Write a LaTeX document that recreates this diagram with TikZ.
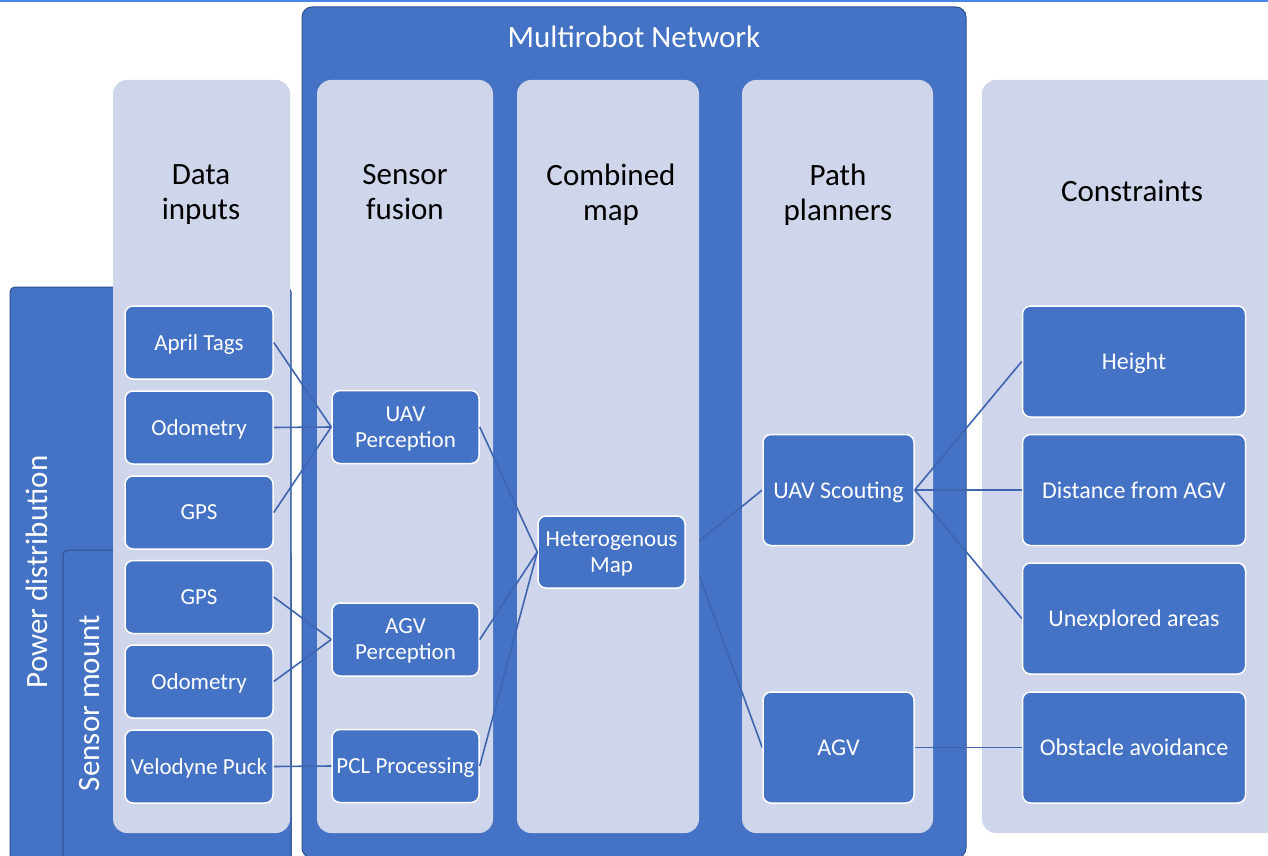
\documentclass[tikz,border=0pt]{standalone}
\usepackage{fontspec}
\setmainfont{Carlito}
\usetikzlibrary{calc}

\definecolor{accent}{HTML}{4472C4}
\definecolor{accentdark}{HTML}{2F528F}
\definecolor{pale}{HTML}{CFD5EA}
\definecolor{wirecol}{HTML}{3D65B0}
\definecolor{topline}{HTML}{4A86E8}

\pgfdeclarelayer{back}
\pgfdeclarelayer{under}
\pgfdeclarelayer{over}
\pgfsetlayers{back,under,over,main}

\tikzset{
  panel/.style={fill=accent, draw=accentdark, line width=1pt},
  lane/.style={fill=pale, draw=none, rounded corners=14pt},
  item/.style={fill=accent, draw=white, line width=1.5pt, rounded corners=8pt,
    text=white, align=center, inner sep=0pt, text depth=0pt,
    font=\fontsize{23}{26}\selectfont},
  smallitem/.style={item, minimum width=148pt, minimum height=73pt},
  bigitem/.style={item, minimum height=111pt, font=\fontsize{24}{27}\selectfont},
  heading/.style={align=center, text=black, text depth=0pt,
    font=\fontsize{31}{35}\selectfont},
  sidelabel/.style={rotate=90, text=white, font=\fontsize{31}{35}\selectfont},
  wire/.style={draw=wirecol, line width=1.6pt},
}

\begin{document}
\begin{tikzpicture}[x=1pt, y=-1pt]
\useasboundingbox (0,0) rectangle (1268,856);
\clip (0,0) rectangle (1268,856);

% outer panels and lanes
\begin{pgfonlayer}{back}
  \fill[white] (0,0) rectangle (1268,856);
  \fill[topline] (0,0) rectangle (1268,2.5);
  \draw[panel, rounded corners=5pt] (10,287) rectangle (291,870);
  \draw[panel, rounded corners=5pt] (63,550) rectangle (291,870);
  \draw[panel, rounded corners=10pt] (302,7) rectangle (966,858);
  \path[lane] (113,80) rectangle (290,833);
  \path[lane] (317,80) rectangle (493,833);
  \path[lane] (742,80) rectangle (933,833);
  \path[lane] (982,80) rectangle (1284,833);
  \node[sidelabel] (powerlbl) at (37,572) {Power distribution};
  \node[sidelabel] (mountlbl) at (90,703) {Sensor mount};
\end{pgfonlayer}
\begin{pgfonlayer}{over}
  \path[lane] (517,80) rectangle (699,833);
\end{pgfonlayer}

% titles
\node[text=white, font=\fontsize{31}{35}\selectfont] (title) at (634,37) {Multirobot Network};
\node[heading] (hdata) at (201,192) {Data\\inputs};
\node[heading] (hfusion) at (405,192) {Sensor\\fusion};
\node[heading] (hmapt) at (611,192) {Combined\\map};
\node[heading] (hplan) at (838,192) {Path\\planners};
\node[heading] (hcons) at (1132,191) {Constraints};

% data inputs
\node[smallitem] (tags) at (199,342.5) {April Tags};
\node[smallitem] (odoa) at (199,427.5) {Odometry};
\node[smallitem] (gpsa) at (199,512.5) {GPS};
\node[smallitem] (gpsb) at (199,597) {GPS};
\node[smallitem] (odob) at (199,681.5) {Odometry};
\node[smallitem] (velo) at (199,766.5) {Velodyne Puck};

% sensor fusion
\node[smallitem, minimum width=147pt] (uavp) at (405.5,427) {UAV\\Perception};
\node[smallitem, minimum width=147pt] (agvp) at (405.5,639.5) {AGV\\Perception};
\node[smallitem, minimum width=147pt] (pcl) at (405.5,766) {PCL Processing};

% combined map
\node[smallitem, minimum width=147pt, minimum height=72pt] (hmap) at (611.5,552) {Heterogenous\\Map};

% path planners
\node[bigitem, minimum width=151pt] (uavs) at (838.5,490) {UAV Scouting};
\node[bigitem, minimum width=151pt] (agv) at (838.5,747.5) {AGV};

% constraints
\node[bigitem, minimum width=223pt] (height) at (1134,361.5) {Height};
\node[bigitem, minimum width=223pt] (dist) at (1134,490) {Distance from AGV};
\node[bigitem, minimum width=223pt] (unexp) at (1134,618.5) {Unexplored areas};
\node[bigitem, minimum width=223pt] (obst) at (1134,747.5) {Obstacle avoidance};

% connectors
\draw[wire] (tags.east) -- (uavp.west);
\draw[wire] (odoa.east) -- (uavp.west);
\draw[wire] (gpsa.east) -- (uavp.west);
\draw[wire] (gpsb.east) -- (agvp.west);
\draw[wire] (odob.east) -- (agvp.west);
\draw[wire] (velo.east) -- (pcl.west);
\draw[wire] (uavp.east) -- (hmap.west);
\draw[wire] (agvp.east) -- (hmap.west);
\draw[wire] (pcl.east) -- (hmap.west);
\begin{pgfonlayer}{under}
  \draw[wire] (hmap.east) -- (uavs.west);
  \draw[wire] ($(hmap.east)+(0,-13)$) -- (agv.west);
\end{pgfonlayer}
\draw[wire] (uavs.east) -- (height.west);
\draw[wire] (uavs.east) -- (dist.west);
\draw[wire] (uavs.east) -- (unexp.west);
\draw[wire] (agv.east) -- (obst.west);
\end{tikzpicture}
\end{document}
